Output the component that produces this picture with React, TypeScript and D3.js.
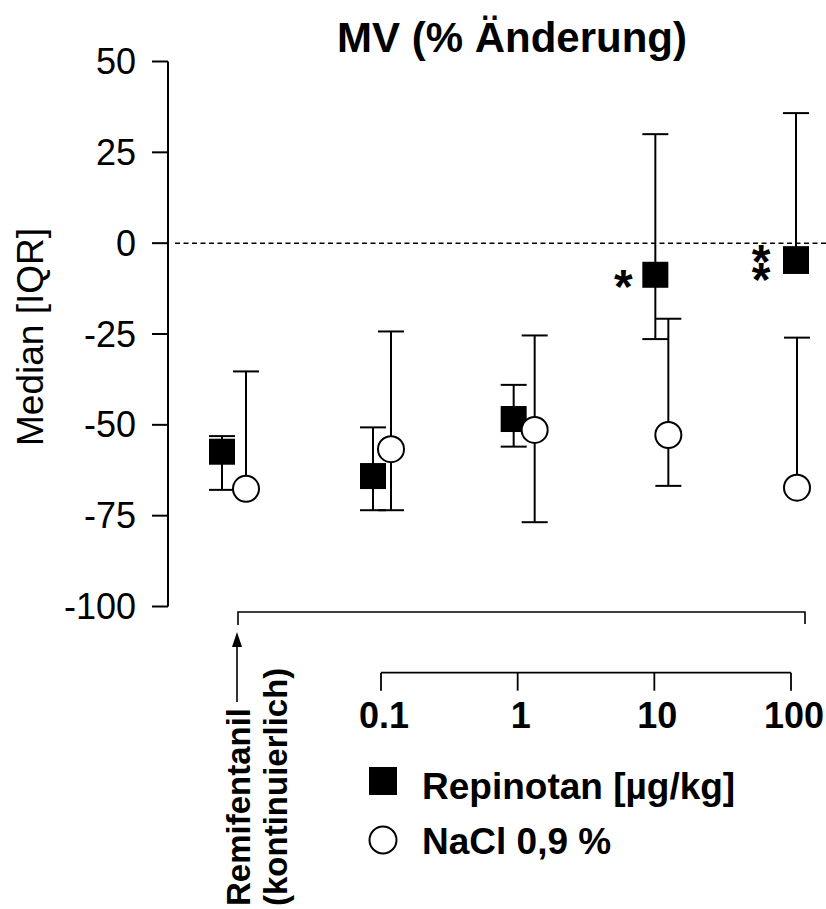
import React from 'react';
import * as d3 from 'd3';

// groups along the x axis: the Remifentanil baseline, then the Repinotan doses
const categories = ['Remifentanil', '0.1', '1', '10', '100'];
const doses = [null, 0.1, 1, 10, 100];

// Repinotan [µg/kg]: median with IQR
const repMedian = [-57.4, -64.1, -48.4, -8.7, -4.4];
const repLow = [-67.9, -73.5, -56.0, -26.4, -8.2];
const repHigh = [-53.1, -50.7, -39.0, 30.0, 35.8];

// NaCl 0,9 %: median with IQR
const naclMedian = [-67.6, -56.7, -51.4, -52.8, -67.3];
const naclLow = [-67.6, -73.5, -76.8, -66.8, -67.3];
const naclHigh = [-35.3, -24.3, -25.4, -20.8, -26.0];

// significance marks next to the Repinotan points
const sigMarks = ['', '', '', '*', '**'];

const yTicks = [50, 25, 0, -25, -50, -75, -100];
const doseTicks = [0.1, 1, 10, 100];
const doseLabels = ['0.1', '1', '10', '100'];

const W = 826;
const H = 909;
const FONT = '"Liberation Sans", Arial, Helvetica, sans-serif';

export default function App() {
  const y = d3.scaleLinear().domain([-100, 50]).range([606.5, 61.5]);
  const x = d3.scaleLog().domain([0.1, 100]).range([381, 791]);
  const remiX = 234;
  const anchor = (i: number) => (doses[i] == null ? remiX : x(doses[i] as number));

  // small horizontal nudges so the two series don't sit on top of each other
  const sqNudge = [-12, -8, -4, 1, 5];
  const ciNudge = [12, 10, 17, 14, 6];

  const axisX = 168;
  const cap = 13;
  const sq = 26;
  const r = 13;

  const whisker = (cx: number, lo: number, hi: number, mid: number, key: string) => (
    <g key={key} stroke="#000" strokeWidth={2}>
      <line x1={cx} x2={cx} y1={y(hi)} y2={y(lo)} />
      {hi !== mid && <line x1={cx - cap} x2={cx + cap} y1={y(hi)} y2={y(hi)} />}
      {lo !== mid && <line x1={cx - cap} x2={cx + cap} y1={y(lo)} y2={y(lo)} />}
    </g>
  );

  return (
    <svg width={W} height={H} style={{ position: 'absolute', left: 0, top: 0, background: '#fff' }}
      fontFamily={FONT}>
      {/* title */}
      <text x={512} y={52} textAnchor="middle" fontSize={42} fontWeight="bold">MV (% Änderung)</text>

      {/* y axis */}
      <line x1={axisX} x2={axisX} y1={y(50)} y2={y(-100)} stroke="#000" strokeWidth={2} />
      {yTicks.map(t => (
        <g key={t}>
          <line x1={152} x2={axisX} y1={y(t)} y2={y(t)} stroke="#000" strokeWidth={2} />
          <text x={136} y={y(t)} dy="0.35em" textAnchor="end" fontSize={36}>{t}</text>
        </g>
      ))}
      <text transform={`translate(43, 337) rotate(-90)`} textAnchor="middle" fontSize={37}>Median [IQR]</text>

      {/* zero reference */}
      <line x1={175} x2={W} y1={y(0)} y2={y(0)} stroke="#000" strokeWidth={1.5} strokeDasharray="5,3.5" />

      {/* bracket over all groups */}
      <path d={`M${remiX + 4},625V612H805V624`} fill="none" stroke="#000" strokeWidth={1.6} />
      <line x1={237} x2={237} y1={702} y2={640} stroke="#000" strokeWidth={1.6} />
      <path d="M237,632L232,647L242,647Z" fill="#000" />

      {/* dose axis */}
      <line x1={x(0.1)} x2={x(100)} y1={672.7} y2={672.7} stroke="#000" strokeWidth={1.8} />
      {doseTicks.map((d, i) => (
        <g key={d}>
          <line x1={x(d)} x2={x(d)} y1={672.7} y2={690.7} stroke="#000" strokeWidth={1.8} />
          <text x={x(d) + 3} y={728} textAnchor="middle" fontSize={36} fontWeight="bold">{doseLabels[i]}</text>
        </g>
      ))}

      {/* Remifentanil label */}
      <text transform="translate(250, 906) rotate(-90)" fontSize={33} fontWeight="bold">Remifentanil</text>
      <text transform="translate(287, 906) rotate(-90)" fontSize={33} fontWeight="bold">(kontinuierlich)</text>

      {/* Repinotan */}
      {categories.map((c, i) => {
        const cx = anchor(i) + sqNudge[i];
        return (
          <g key={'r' + c}>
            {whisker(cx, repLow[i], repHigh[i], repMedian[i], 'rw' + c)}
            <rect x={cx - sq / 2} y={y(repMedian[i]) - sq / 2} width={sq} height={sq} fill="#000" />
          </g>
        );
      })}

      {/* NaCl */}
      {categories.map((c, i) => {
        const cx = anchor(i) + ciNudge[i];
        return (
          <g key={'n' + c}>
            {whisker(cx, naclLow[i], naclHigh[i], naclMedian[i], 'nw' + c)}
            <circle cx={cx} cy={y(naclMedian[i])} r={r} fill="#fff" stroke="#000" strokeWidth={2} />
          </g>
        );
      })}

      {/* significance: several marks are stacked vertically (text run turned 90°, glyphs turned back upright) */}
      {categories.map((c, i) => {
        const s = sigMarks[i];
        if (!s) return null;
        const cy = y(repMedian[i]);
        if (s.length === 1) {
          return (
            <text key={'s' + c} x={anchor(i) + sqNudge[i] - 32} y={cy + 28}
              textAnchor="middle" fontSize={48} fontWeight="bold">{s}</text>
          );
        }
        const x0 = anchor(i) + sqNudge[i] - 35 - 9.3;
        const y0 = cy + 28 - (s.length - 1) * 9.35;
        return (
          <text key={'s' + c} transform={`translate(${x0},${y0}) rotate(90)`}
            rotate={s.split('').map(() => -90).join(' ')} fontSize={48} fontWeight="bold">{s}</text>
        );
      })}

      {/* legend */}
      <rect x={369} y={767} width={28} height={28} fill="#000" />
      <text x={422} y={799} fontSize={37} fontWeight="bold">Repinotan [µg/kg]</text>
      <circle cx={383} cy={840} r={13.5} fill="#fff" stroke="#000" strokeWidth={2} />
      <text x={422} y={854} fontSize={37} fontWeight="bold">NaCl 0,9 %</text>
    </svg>
  );
}
